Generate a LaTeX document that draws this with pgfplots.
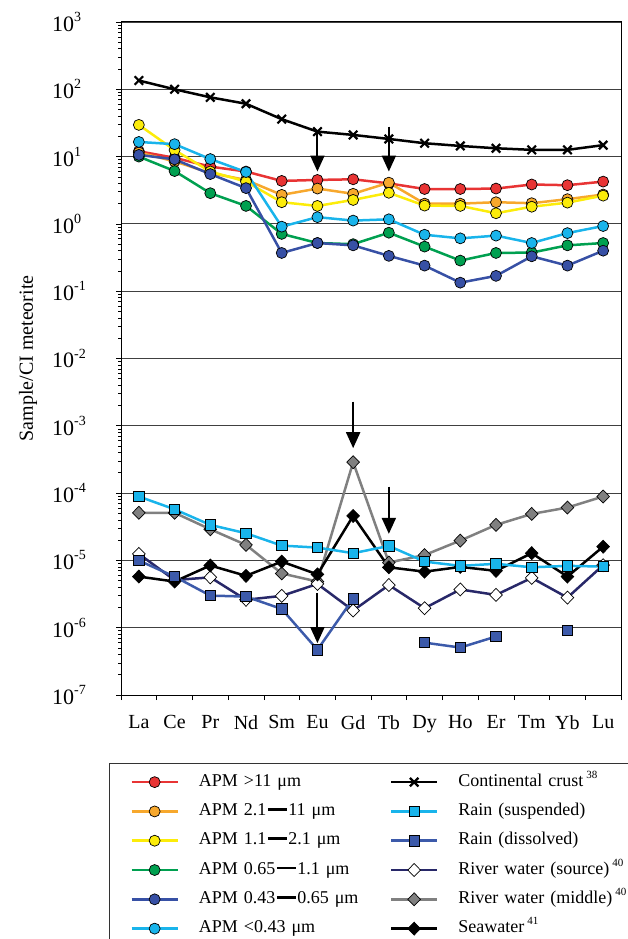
\documentclass[border=0pt]{standalone}
\usepackage{fontspec}
\setmainfont{Liberation Serif}
\usepackage{pgfplots}
\pgfplotsset{compat=1.18}
\usetikzlibrary{arrows.meta}
\definecolor{cred}{RGB}{232,52,52}
\definecolor{corange}{RGB}{247,168,45}
\definecolor{cyellow}{RGB}{252,236,10}
\definecolor{cgreen}{RGB}{0,160,80}
\definecolor{cdblue}{RGB}{55,80,165}
\definecolor{clblue}{RGB}{25,180,235}
\definecolor{cnavy}{RGB}{40,40,105}
\definecolor{cdiss}{RGB}{60,90,170}
\definecolor{cgray}{RGB}{128,128,128}
\newcommand{\sups}[1]{\raisebox{0.45em}{\fontsize{14}{14}\selectfont #1}}
\newcommand{\lsup}[1]{\raisebox{0.45em}{\fontsize{11}{11}\selectfont #1}}
\newcommand{\dsh}{\hspace{1.5pt}\rule[0.27em]{1.05em}{0.15em}\hspace{1.5pt}}
\begin{document}
\begin{tikzpicture}[x=1pt,y=1pt]
\useasboundingbox (0,0) rectangle (628,939);
\begin{axis}[
  at={(121pt,244pt)}, anchor=south west,
  scale only axis, width=500pt, height=673pt,
  ymode=log, ymin=1e-7, ymax=1e3,
  xmin=-0.5, xmax=13.5,
  unbounded coords=jump,
  ytick={1e-7,1e-6,1e-5,1e-4,1e-3,1e-2,1e-1,1,10,100,1000},
  yticklabels={10\sups{-7},10\sups{-6},10\sups{-5},10\sups{-4},10\sups{-3},10\sups{-2},10\sups{-1},10\sups{0},10\sups{1},10\sups{2},10\sups{3}},
  yticklabel style={font=\fontsize{22}{22}\selectfont, anchor=west, inner sep=0pt, xshift=-64pt},
  xtick={-0.5,0.5,...,13.5},
  xticklabels={},
  extra x ticks={0,1,...,13},
  extra x tick labels={La,Ce,Pr,Nd,Sm,Eu,Gd,Tb,Dy,Ho,Er,Tm,Yb,Lu},
  extra x tick style={tick style={draw=none}, tick label style={font=\fontsize{20}{20}\selectfont, yshift=-12pt}},
  tick align=outside, tick pos=left,
  major tick length=5pt, minor tick length=3pt,
  tick style={black, line width=0.7pt},
  ymajorgrids, major grid style={black!75, line width=0.8pt},
  axis line style={line width=1pt},
  ylabel={Sample/CI meteorite},
  ylabel style={font=\fontsize{20}{20}\selectfont, at={(axis description cs:-0.186,0.5)}, anchor=center},
  legend columns=2,
  legend style={at={(axis description cs:-0.024,-0.101)}, anchor=north west,
    draw=black!80, line width=0.8pt, inner xsep=21pt, inner ysep=10pt,
    font=\fontsize{18}{20}\selectfont, cells={anchor=west},
    nodes={inner sep=0pt, text height=13pt, text depth=4.5pt, text width=171pt},
    /tikz/column sep=20pt, /tikz/row sep=11.8pt},
  legend image code/.code={\draw[mark repeat=2,mark phase=2] plot coordinates {(0pt,0pt) (23pt,0pt) (46pt,0pt)};},
  circ/.style={line width=2.5pt, color=#1, mark=*, mark size=5.5pt, mark options={fill=#1, draw=black, line width=0.7pt}},
  sq/.style={line width=2.5pt, color=#1, mark=square*, mark size=5.2pt, mark options={fill=#1, draw=black, line width=0.7pt}},
]
% legend entries
\addlegendimage{circ=cred}\addlegendentry{APM >11 μm}
\addlegendimage{line width=2.5pt, black, mark=x, mark size=6pt, mark options={line width=2.2pt}}\addlegendentry{Continental crust\,\lsup{38}}
\addlegendimage{circ=corange}\addlegendentry{APM 2.1\dsh 11 μm}
\addlegendimage{sq=clblue}\addlegendentry{Rain (suspended)}
\addlegendimage{circ=cyellow}\addlegendentry{APM 1.1\dsh 2.1 μm}
\addlegendimage{sq=cdiss}\addlegendentry{Rain (dissolved)}
\addlegendimage{circ=cgreen}\addlegendentry{APM 0.65\dsh 1.1 μm}
\addlegendimage{line width=2.5pt, cnavy, mark=diamond*, mark size=6.5pt, mark options={fill=white, draw=black, line width=0.7pt, xscale=1.3}}\addlegendentry{River water (source)\,\lsup{40}}
\addlegendimage{circ=cdblue}\addlegendentry{APM 0.43\dsh 0.65 μm}
\addlegendimage{line width=2.5pt, cgray, mark=diamond*, mark size=6.5pt, mark options={fill=cgray, draw=black, line width=0.7pt, xscale=1.3}}\addlegendentry{River water (middle)\,\lsup{40}}
\addlegendimage{circ=clblue}\addlegendentry{APM <0.43 μm}
\addlegendimage{line width=2.5pt, black, mark=diamond*, mark size=6.5pt, mark options={fill=black, draw=black, line width=0.7pt, xscale=1.3}}\addlegendentry{Seawater\,\lsup{41}}
% continental crust
\addplot[forget plot, line width=2.5pt, black, mark=x, mark size=6pt, mark options={line width=2.2pt}] coordinates {
(0,135) (1,100) (2,76) (3,61) (4,36) (5,23.5) (6,21) (7,18.3) (8,15.8) (9,14.4) (10,13.3) (11,12.6) (12,12.6) (13,14.8)};
% APM
\addplot[forget plot, circ=cred] coordinates {
(0,12) (1,9.6) (2,7.1) (3,6.0) (4,4.35) (5,4.5) (6,4.6) (7,4.0) (8,3.3) (9,3.3) (10,3.35) (11,3.85) (12,3.76) (13,4.25)};
\addplot[forget plot, circ=corange] coordinates {
(0,11.5) (1,8.5) (2,5.7) (3,4.5) (4,2.7) (5,3.35) (6,2.8) (7,4.1) (8,2.0) (9,2.0) (10,2.1) (11,2.03) (12,2.33) (13,2.73)};
\addplot[forget plot, circ=cyellow] coordinates {
(0,29.6) (1,12.5) (2,6.0) (3,4.25) (4,2.1) (5,1.85) (6,2.27) (7,2.9) (8,1.87) (9,1.85) (10,1.44) (11,1.8) (12,2.07) (13,2.63)};
\addplot[forget plot, circ=cgreen] coordinates {
(0,10) (1,6.1) (2,2.86) (3,1.85) (4,0.71) (5,0.52) (6,0.50) (7,0.74) (8,0.46) (9,0.285) (10,0.37) (11,0.375) (12,0.48) (13,0.52)};
\addplot[forget plot, circ=clblue] coordinates {
(0,16.5) (1,15.3) (2,9.2) (3,5.9) (4,0.91) (5,1.26) (6,1.12) (7,1.17) (8,0.69) (9,0.61) (10,0.67) (11,0.52) (12,0.73) (13,0.93)};
\addplot[forget plot, circ=cdblue] coordinates {
(0,10.6) (1,9.1) (2,5.5) (3,3.4) (4,0.37) (5,0.52) (6,0.48) (7,0.335) (8,0.24) (9,0.134) (10,0.169) (11,0.33) (12,0.24) (13,0.40)};
% waters
\addplot[forget plot, line width=2.5pt, cgray, mark=diamond*, mark size=6.5pt, mark options={fill=cgray, draw=black, line width=0.7pt, xscale=1.3}] coordinates {
(0,5.1e-5) (1,5.1e-5) (2,2.9e-5) (3,1.7e-5) (4,6.4e-6) (5,4.85e-6) (6,2.88e-4) (7,9.3e-6) (8,1.2e-5) (9,1.97e-5) (10,3.37e-5) (11,4.9e-5) (12,6.1e-5) (13,8.9e-5)};
\addplot[forget plot, line width=2.5pt, cnavy, mark=diamond*, mark size=6.5pt, mark options={fill=white, draw=black, line width=0.7pt, xscale=1.3}] coordinates {
(0,1.25e-5) (1,5.1e-6) (2,5.6e-6) (3,2.6e-6) (4,2.97e-6) (5,4.47e-6) (6,1.8e-6) (7,4.3e-6) (8,1.95e-6) (9,3.7e-6) (10,3.07e-6) (11,5.5e-6) (12,2.8e-6) (13,8.5e-6)};
\addplot[forget plot, line width=2.5pt, black, mark=diamond*, mark size=6.5pt, mark options={fill=black, draw=black, line width=0.7pt, xscale=1.3}] coordinates {
(0,5.75e-6) (1,4.85e-6) (2,8.4e-6) (3,5.9e-6) (4,9.6e-6) (5,6.2e-6) (6,4.58e-5) (7,7.9e-6) (8,6.8e-6) (9,8.0e-6) (10,7.0e-6) (11,1.28e-5) (12,5.75e-6) (13,1.6e-5)};
\addplot[forget plot, sq=cdiss] coordinates {
(0,9.95e-6) (1,5.75e-6) (2,3.0e-6) (3,2.9e-6) (4,1.9e-6) (5,4.7e-7) (6,2.7e-6) (7,nan) (8,6.0e-7) (9,5.07e-7) (10,7.4e-7) (11,nan) (12,9.1e-7) (13,nan)};
\addplot[forget plot, sq=clblue] coordinates {
(0,8.9e-5) (1,5.75e-5) (2,3.37e-5) (3,2.53e-5) (4,1.66e-5) (5,1.55e-5) (6,1.28e-5) (7,1.64e-5) (8,9.6e-6) (9,8.3e-6) (10,8.9e-6) (11,7.9e-6) (12,8.3e-6) (13,8.1e-6)};
% arrows
\draw[line width=2pt, -{Triangle[length=16pt,width=14pt]}] (axis cs:5,23.5) -- (axis cs:5,6.0);
\draw[line width=2pt, -{Triangle[length=16pt,width=14pt]}] (axis cs:7,27.9) -- (axis cs:7,6.0);
\draw[line width=2pt, -{Triangle[length=16pt,width=14pt]}] (axis cs:6,2.29e-3) -- (axis cs:6,4.65e-4);
\draw[line width=2pt, -{Triangle[length=16pt,width=14pt]}] (axis cs:7,1.25e-4) -- (axis cs:7,2.48e-5);
\draw[line width=2pt, -{Triangle[length=16pt,width=14pt]}] (axis cs:5,3.26e-6) -- (axis cs:5,5.9e-7);
\end{axis}
\end{tikzpicture}
\end{document}
